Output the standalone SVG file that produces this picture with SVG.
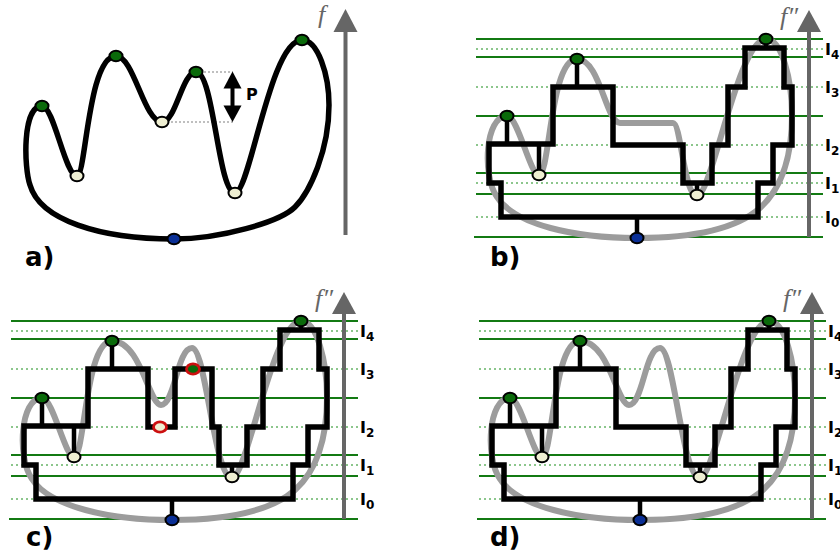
<svg xmlns="http://www.w3.org/2000/svg" xmlns:xlink="http://www.w3.org/1999/xlink" width="840" height="554" viewBox="0 0 840 554">
<style>
.curve{fill:none;stroke:#000;stroke-width:5.5;stroke-linejoin:round}
.grey{fill:none;stroke:#9c9c9c;stroke-width:6}
.step{fill:none;stroke:#000;stroke-width:5.5;stroke-linejoin:miter}
.stem{fill:none;stroke:#000;stroke-width:4.5}
.lvl{stroke:#137a13;stroke-width:2}
.dot{stroke:#8cc68c;stroke-width:2;stroke-dasharray:2 3}
.axis{stroke:#666;stroke-width:4}
.ah{fill:#666}
.mx{fill:#0a6a0a;stroke:#000;stroke-width:2}
.mn{fill:#efefd2;stroke:#000;stroke-width:2}
.gm{fill:#0a2f96;stroke:#000;stroke-width:2}
.rd{stroke:#cc1010;stroke-width:2.8}
.lab{font-family:"DejaVu Sans",sans-serif;font-weight:bold;font-size:26px;fill:#000}
.il{font-family:"DejaVu Sans",sans-serif;font-weight:bold;font-size:16px;fill:#000}
.fl{font-family:"Liberation Serif",serif;font-style:italic;font-size:26px;fill:#666}
.pd{stroke:#aaa;stroke-width:1.5;stroke-dasharray:2 2}
</style>
<defs>
<g id="levels">
<line class="lvl" x1="476" y1="39" x2="823" y2="39"/>
<line class="lvl" x1="476" y1="57" x2="823" y2="57"/>
<line class="lvl" x1="476" y1="116" x2="823" y2="116"/>
<line class="lvl" x1="476" y1="173" x2="823" y2="173"/>
<line class="lvl" x1="476" y1="194" x2="823" y2="194"/>
<line class="lvl" x1="474" y1="237" x2="823" y2="237"/>
<line class="dot" x1="476" y1="49" x2="823" y2="49"/>
<line class="dot" x1="476" y1="87" x2="823" y2="87"/>
<line class="dot" x1="476" y1="145" x2="823" y2="145"/>
<line class="dot" x1="476" y1="183" x2="823" y2="183"/>
<line class="dot" x1="476" y1="217" x2="823" y2="217"/>
</g>
<g id="axis2">
<line class="axis" x1="809" y1="237" x2="809" y2="30"/>
<polygon class="ah" points="797,32 821,32 809,10"/>
<text class="fl" x="780" y="25">f″</text>
</g>
<g id="ilabels">
<text class="il" x="825" y="54.5">I<tspan font-size="12" dy="4.5">4</tspan></text>
<text class="il" x="825" y="92.5">I<tspan font-size="12" dy="4.5">3</tspan></text>
<text class="il" x="825" y="150.5">I<tspan font-size="12" dy="4.5">2</tspan></text>
<text class="il" x="825" y="188.5">I<tspan font-size="12" dy="4.5">1</tspan></text>
<text class="il" x="825" y="222.5">I<tspan font-size="12" dy="4.5">0</tspan></text>
</g>
</defs>

<g id="panel-a">
<line class="pd" x1="200" y1="72" x2="233" y2="72"/>
<line class="pd" x1="167" y1="122" x2="233" y2="122"/>
<path class="curve" d="M42,106 C54,106 65,176 77,176 C86,176 88,56 116,56 C134,56 144,122 162,122 C176,122 182,72 196,72 C214,72 218,193 235,193 C250,193 270,40 302,40 C318,40 329,75 329,105 C329,150 310,192 295,207 C280,222 220,239 174,239 C100,239 40,220 30,185 C24,168 22,106 42,106 Z"/>
<g id="p-arrow">
<line x1="232.5" y1="86" x2="232.5" y2="108" stroke="#000" stroke-width="4"/>
<polygon points="232.5,71.5 223.5,88.5 241.5,88.5" fill="#000"/>
<polygon points="232.5,122 223.5,105.5 241.5,105.5" fill="#000"/>
</g>
<text class="il" x="246" y="100">P</text>
<line class="axis" x1="345.5" y1="235" x2="345.5" y2="30"/>
<polygon class="ah" points="333.5,32 357.5,32 345.5,9"/>
<text class="fl" x="318" y="23">f</text>
<g id="a-max1"><ellipse class="mx" cx="42" cy="106" rx="6.5" ry="5.2"/></g>
<g id="a-max2"><ellipse class="mx" cx="116" cy="56" rx="6.5" ry="5.2"/></g>
<g id="a-max3"><ellipse class="mx" cx="196" cy="72" rx="6.5" ry="5.2"/></g>
<g id="a-max4"><ellipse class="mx" cx="302" cy="40" rx="6.5" ry="5.2"/></g>
<g id="a-min1"><ellipse class="mn" cx="77" cy="176" rx="6.5" ry="5.2"/></g>
<g id="a-min2"><ellipse class="mn" cx="162" cy="122" rx="6.5" ry="5.2"/></g>
<g id="a-min3"><ellipse class="mn" cx="235" cy="193" rx="6.5" ry="5.2"/></g>
<g id="a-gmin"><ellipse class="gm" cx="174" cy="239" rx="6.5" ry="5.2"/></g>
<text class="lab" x="25" y="266">a)</text>
</g>

<g id="panel-b">
<use xlink:href="#levels"/>
<path class="grey" d="M507,116 C518,116 530,175 539,175 C550,175 550,59 577,59 C600,59 606,123 620,123 L673,123 C681,123 684,196 697,196 C712,196 738,39 766,39 C782,39 792,80 792,115 C792,160 780,190 760,208 C735,230 690,238 637,238 C575,238 515,225 497,197 C482,176 485,116 507,116 Z"/>
<g id="connectors-b">
<path class="step" d="M489,144 V183 H501 V217 H758 V183 H773 V145 H792 V87 H784 V48 H745 V87 H728 V145 H712 V183 H683 V145 H613 V87 H553 V144 Z"/>
<path class="stem" d="M507,116V144 M539,144V175 M577,59V87 M697,183V195 M766,39V48 M637,217V238"/>
</g>
<use xlink:href="#axis2"/>
<use xlink:href="#ilabels"/>
<g id="b-max1"><ellipse class="mx" cx="507" cy="116" rx="6.5" ry="5.2"/></g>
<g id="b-max2"><ellipse class="mx" cx="577" cy="59" rx="6.5" ry="5.2"/></g>
<g id="b-max3"><ellipse class="mx" cx="766" cy="39" rx="6.5" ry="5.2"/></g>
<g id="b-min1"><ellipse class="mn" cx="539" cy="175" rx="6.5" ry="5.2"/></g>
<g id="b-min2"><ellipse class="mn" cx="697" cy="195" rx="6.5" ry="5.2"/></g>
<g id="b-gmin"><ellipse class="gm" cx="637" cy="238" rx="6.5" ry="5.2"/></g>
</g>
<text class="lab" x="490" y="266">b)</text>

<g id="panel-c" transform="translate(-465,282)">
<use xlink:href="#levels"/>
<path class="grey" d="M507,116 C518,116 530,175 539,175 C550,175 550,59 577,59 C606,59 614,123 626,123 C640,123 642,66 657,66 C671,66 679,196 697,196 C712,196 738,39 766,39 C782,39 792,80 792,115 C792,160 780,190 760,208 C735,230 690,238 637,238 C575,238 515,225 497,197 C482,176 485,116 507,116 Z"/>
<g id="connectors-c">
<path class="step" d="M489,144 V183 H501 V217 H758 V183 H773 V145 H792 V87 H784 V48 H745 V87 H728 V145 H712 V183 H684 V145 H677 V87 H640 V145 H613 V87 H553 V144 Z"/>
<path class="stem" d="M507,116V144 M539,144V175 M577,59V87 M697,183V195 M766,39V48 M637,217V238"/>
</g>
<use xlink:href="#axis2"/>
<use xlink:href="#ilabels"/>
<g id="c-max1"><ellipse class="mx" cx="507" cy="116" rx="6.5" ry="5.2"/></g>
<g id="c-max2"><ellipse class="mx" cx="577" cy="59" rx="6.5" ry="5.2"/></g>
<g id="c-max3"><ellipse class="mx" cx="766" cy="39" rx="6.5" ry="5.2"/></g>
<g id="c-max-red"><ellipse class="mx rd" cx="658" cy="87" rx="6.5" ry="5.2"/></g>
<g id="c-min1"><ellipse class="mn" cx="539" cy="175" rx="6.5" ry="5.2"/></g>
<g id="c-min2"><ellipse class="mn" cx="697" cy="195" rx="6.5" ry="5.2"/></g>
<g id="c-min-red"><ellipse class="mn rd" cx="625" cy="145" rx="6.5" ry="5.2"/></g>
<g id="c-gmin"><ellipse class="gm" cx="637" cy="238" rx="6.5" ry="5.2"/></g>
</g>
<text class="lab" x="26" y="546">c)</text>

<g id="panel-d" transform="translate(3,282)">
<use xlink:href="#levels"/>
<path class="grey" d="M507,116 C518,116 530,175 539,175 C550,175 550,59 577,59 C606,59 614,123 626,123 C640,123 642,66 657,66 C671,66 679,196 697,196 C712,196 738,39 766,39 C782,39 792,80 792,115 C792,160 780,190 760,208 C735,230 690,238 637,238 C575,238 515,225 497,197 C482,176 485,116 507,116 Z"/>
<g id="connectors-d">
<path class="step" d="M489,144 V183 H501 V217 H758 V183 H773 V145 H792 V87 H784 V48 H745 V87 H728 V145 H712 V183 H683 V145 H613 V87 H553 V144 Z"/>
<path class="stem" d="M507,116V144 M539,144V175 M577,59V87 M697,183V195 M766,39V48 M637,217V238"/>
</g>
<use xlink:href="#axis2"/>
<use xlink:href="#ilabels"/>
<g id="d-max1"><ellipse class="mx" cx="507" cy="116" rx="6.5" ry="5.2"/></g>
<g id="d-max2"><ellipse class="mx" cx="577" cy="59" rx="6.5" ry="5.2"/></g>
<g id="d-max3"><ellipse class="mx" cx="766" cy="39" rx="6.5" ry="5.2"/></g>
<g id="d-min1"><ellipse class="mn" cx="539" cy="175" rx="6.5" ry="5.2"/></g>
<g id="d-min2"><ellipse class="mn" cx="697" cy="195" rx="6.5" ry="5.2"/></g>
<g id="d-gmin"><ellipse class="gm" cx="637" cy="238" rx="6.5" ry="5.2"/></g>
</g>
<text class="lab" x="490" y="546">d)</text>
</svg>
